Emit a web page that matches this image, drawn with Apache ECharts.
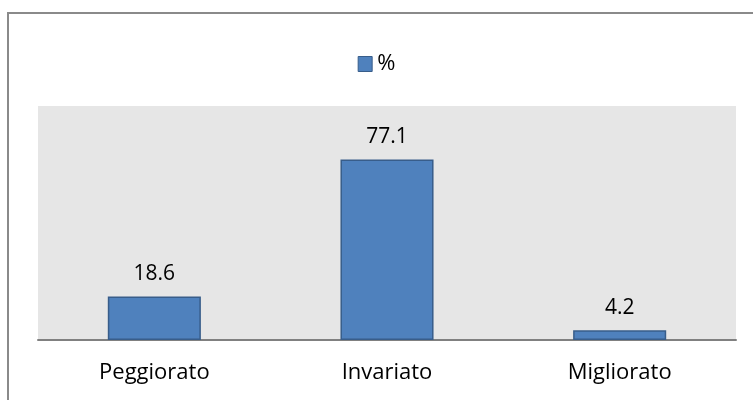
<!DOCTYPE html>
<html>
<head>
<meta charset="utf-8">
<script src="https://cdn.jsdelivr.net/npm/echarts@6/dist/echarts.min.js"></script>
<style>
  html, body { margin: 0; padding: 0; background: #ffffff; }
  #chart { width: 753px; height: 400px; }
</style>
</head>
<body>
<div id="chart"></div>
<script>
// Categories and values of the bar chart
const categories = ['Peggiorato', 'Invariato', 'Migliorato'];
const seriesName = '%';
const values = [18.6, 77.1, 4.2];

const chart = echarts.init(document.getElementById('chart'));
const font = '"Open Sans", "Noto Sans", sans-serif';

chart.setOption({
  animation: false,
  textStyle: { fontFamily: font },
  graphic: [{
    type: 'rect',
    shape: { x: 8, y: 13, width: 800, height: 500 },
    style: { fill: 'none', stroke: '#8a8a8a', lineWidth: 2 },
    z: -10
  }],
  legend: {
    data: [seriesName],
    top: 48,
    left: 'center',
    icon: 'rect',
    itemWidth: 14,
    itemHeight: 15,
    itemGap: 5,
    textStyle: { fontSize: 22, color: '#000', fontFamily: font },
    itemStyle: { borderColor: '#385d8a', borderWidth: 1 }
  },
  grid: {
    left: 38, right: 17, top: 106, bottom: 60,
    show: true, backgroundColor: '#e6e6e6', borderWidth: 0
  },
  xAxis: {
    type: 'category',
    data: categories,
    axisLine: { lineStyle: { color: '#808080', width: 2 } },
    axisTick: { show: false },
    axisLabel: { fontSize: 22, color: '#000', margin: 22, fontFamily: font }
  },
  yAxis: {
    type: 'value',
    min: 0, max: 100,
    show: false,
    splitLine: { show: false }
  },
  series: [{
    name: seriesName,
    type: 'bar',
    data: values,
    barWidth: '40%',
    itemStyle: { color: '#4f81bd', borderColor: '#385d8a', borderWidth: 1.5 },
    label: {
      show: true, position: 'top', distance: 12,
      fontSize: 21, color: '#000', fontFamily: font,
      formatter: p => p.value.toFixed(1)
    }
  }]
});
</script>
</body>
</html>
